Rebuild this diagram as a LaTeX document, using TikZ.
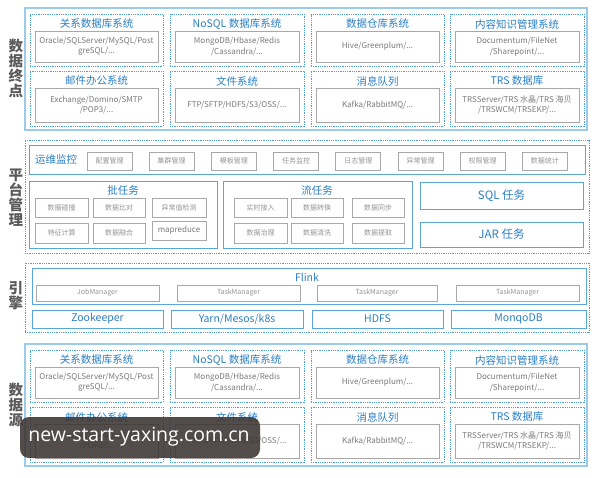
\documentclass[tikz,border=0pt]{standalone}
\usepackage{fontspec}
\setmainfont{Noto Sans CJK SC}
\newfontfamily\wmfont{Open Sans}
\definecolor{lblue}{HTML}{9CCBEA}
\definecolor{dblue}{HTML}{4F9ED6}
\definecolor{mblue}{HTML}{5AA5DA}
\definecolor{tblue}{HTML}{2A7FC6}
\definecolor{gborder}{HTML}{A8A8A8}
\definecolor{gtext}{HTML}{7A7A7A}
\definecolor{gtext2}{HTML}{959595}
\definecolor{sidegray}{HTML}{5A5A5A}
\definecolor{wmbg}{HTML}{3B3431}
\tikzset{
 outerbox/.style={draw=lblue, line width=1.2pt},
 dotbox/.style={draw=dblue, line width=0.8pt, dash pattern=on 0.9pt off 0.9pt},
 bluebox/.style={draw=mblue, line width=1pt},
 graybox/.style={draw=gborder, line width=0.9pt, fill=white, text=gtext, font=\fontsize{8}{10.5}\selectfont, align=center},
 btnbox/.style={draw=gborder, line width=0.8pt, fill=white, text=gtext2, font=\fontsize{7}{8}\selectfont},
 titletext/.style={text=tblue, font=\fontsize{10.5}{12}\selectfont, inner sep=0pt},
 bigtitle/.style={text=tblue, font=\fontsize{11.5}{13}\selectfont},
 sidelabel/.style={text=sidegray, font=\fontsize{14.5}{15}\selectfont\bfseries, align=center, inner sep=0pt},
}
\newcommand\bx[7]{%
 \pgfmathsetmacro\cxx{(#3+#5)/2}\pgfmathsetmacro\cyy{(#4+#6)/2}%
 \pgfmathsetmacro\ww{#5-(#3)}\pgfmathsetmacro\hh{#6-(#4)}%
 \node[#2, minimum width=\ww pt, minimum height=\hh pt, inner sep=0pt, outer sep=0pt] (#1) at (\cxx,\cyy) {#7};}
\newcommand\dbcell[7]{%
 \bx{#1}{dotbox}{#2}{#4}{#3}{#5}{}%
 \pgfmathsetmacro\tx{(#2+#3)/2}\pgfmathsetmacro\ty{#4+10}%
 \node[titletext] (#1t) at (\tx,\ty) {#6};%
 \bx{#1g}{graybox}{#2+5}{#4+17}{#3-5}{#5-4}{#7}}
\newcommand\dbsec[2]{%
 \bx{#2o}{outerbox}{25}{8+#1}{587}{130+#1}{}%
 \dbcell{#2a}{30}{163}{14+#1}{66+#1}{关系数据库系统}{Oracle/SQLServer/MySQL/Post\\greSQL/...}%
 \dbcell{#2b}{170}{304}{14+#1}{66+#1}{NoSQL 数据库系统}{MongoDB/Hbase/Redis\\/Cassandra/...}%
 \dbcell{#2c}{311}{444}{14+#1}{66+#1}{数据仓库系统}{Hive/Greenplum/...}%
 \dbcell{#2d}{450}{584}{14+#1}{66+#1}{内容知识管理系统}{Documentum/FileNet\\/Sharepoint/...}%
 \dbcell{#2e}{30}{163}{71+#1}{126+#1}{邮件办公系统}{Exchange/Domino/SMTP\\/POP3/...}%
 \dbcell{#2f}{170}{304}{71+#1}{126+#1}{文件系统}{FTP/SFTP/HDFS/S3/OSS/...}%
 \dbcell{#2g}{311}{444}{71+#1}{126+#1}{消息队列}{Kafka/RabbitMQ/...}%
 \dbcell{#2h}{450}{584}{71+#1}{126+#1}{TRS 数据库}{TRSServer/TRS 水晶/TRS 海贝\\/TRSWCM/TRSEKP/...}}
\begin{document}
\begin{tikzpicture}[x=1pt,y=-1pt]
\fill[white] (0,0) rectangle (601,477);
\useasboundingbox (0,0) rectangle (601,477);
% side labels
\node[sidelabel] (s1) at (16,68.5) {数\\据\\终\\点};
\node[sidelabel] (s2) at (16,198) {平\\台\\管\\理};
\node[sidelabel] (s3) at (16,296) {引\\擎};
\node[sidelabel] (s4) at (16,405) {数\\据\\源};
% top data sink
\dbsec{0}{T}
% platform
\bx{P}{dotbox}{25}{140}{589}{253}{}
\bx{OM}{bluebox}{29}{145}{585}{174}{}
\node[titletext] (OMt) at (56,159.5) {运维监控};
\foreach \t [count=\i] in {配置管理,集群管理,模板管理,任务监控,日志管理,异常管理,权限管理,数据统计}{
 \pgfmathsetmacro\xl{87+62.2*(\i-1)}
 \bx{op\i}{btnbox}{\xl}{152}{\xl+45}{170}{\t}
}
\bx{B}{bluebox}{29}{181}{217}{248}{}
\node[titletext] (Bt) at (123,190) {批任务};
\bx{b1}{btnbox}{35}{198}{88}{217}{数据碰撞}
\bx{b2}{btnbox}{93}{198}{145}{217}{数据比对}
\bx{b3}{btnbox}{152}{198}{206}{217}{异常值检测}
\bx{b4}{btnbox}{35}{223}{88}{243}{特征计算}
\bx{b5}{btnbox}{93}{223}{145}{243}{数据融合}
\bx{b6}{btnbox,text=gtext,font=\fontsize{8}{9}\selectfont}{152}{221}{206}{240}{mapreduce}
\bx{S}{bluebox}{223}{181}{412}{248}{}
\node[titletext] (St) at (317,190) {流任务};
\bx{f1}{btnbox}{234}{198}{287}{217}{实时接入}
\bx{f2}{btnbox}{291}{198}{343}{217}{数据转换}
\bx{f3}{btnbox}{352}{198}{404}{217}{数据同步}
\bx{f4}{btnbox}{234}{223}{287}{243}{数据治理}
\bx{f5}{btnbox}{291}{223}{343}{243}{数据清洗}
\bx{f6}{btnbox}{352}{223}{404}{243}{数据提取}
\bx{SQL}{bluebox,bigtitle}{420}{182}{583}{209}{SQL 任务}
\bx{JAR}{bluebox,bigtitle}{420}{222}{583}{247}{JAR 任务}
% engine
\bx{E}{dotbox}{25}{263}{589}{332}{}
\bx{FL}{bluebox}{32}{268}{586}{304}{}
\node[titletext] (FLt) at (307,277) {Flink};
\bx{m1}{btnbox}{36}{285}{159}{301}{JobManager}
\bx{m2}{btnbox}{177}{285}{300}{301}{TaskManager}
\bx{m3}{btnbox}{317}{285}{437}{301}{TaskManager}
\bx{m4}{btnbox}{456}{285}{579}{301}{TaskManager}
\bx{z1}{bluebox,titletext}{32}{310}{163}{328}{Zookeeper}
\bx{z2}{bluebox,titletext}{171}{310}{303}{328}{Yarn/Mesos/k8s}
\bx{z3}{bluebox,titletext}{312}{310}{443}{328}{HDFS}
\bx{z4}{bluebox,titletext}{451}{310}{586}{328}{MonqoDB}
% bottom data source
\dbsec{336}{D}
% watermark
\node[fill=wmbg, fill opacity=0.88, text opacity=1, rounded corners=9pt, minimum width=240pt, minimum height=41pt, inner sep=0pt] (wm) at (140,437.5) {};
\node[text=white, font=\wmfont\fontsize{19.5}{22}\selectfont, inner sep=0pt] (wmt) at (139,437) {new-start-yaxing.com.cn};
\end{tikzpicture}
\end{document}
